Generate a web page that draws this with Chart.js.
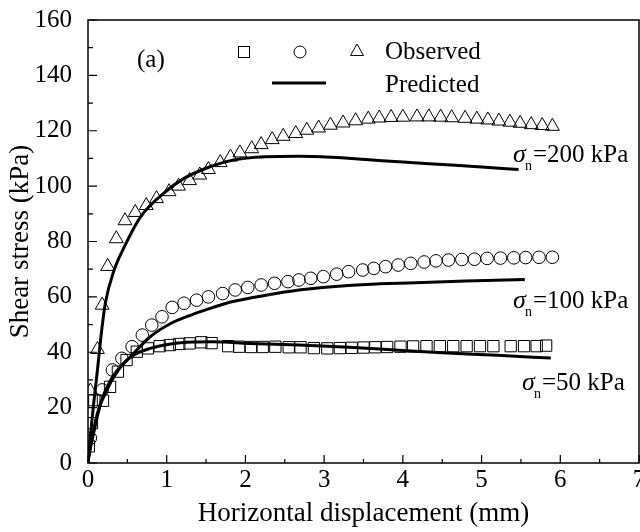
<!DOCTYPE html>
<html>
<head>
<meta charset="utf-8">
<script src="https://cdn.jsdelivr.net/npm/chart.js@4"></script>
<style>
  body { margin: 0; background: #fff; overflow: hidden; }
  #wrap { width: 640px; height: 532px; overflow: hidden; }
</style>
</head>
<body>
<div id="wrap"><canvas id="chart" width="648" height="532"></canvas></div>
<script>
// observed, sigma_n = 50 kPa (squares)
let obs50X = [0.01, 0.05, 0.08, 0.19, 0.28, 0.38, 0.49, 0.62, 0.76, 0.91, 1.04, 1.16, 1.29, 1.44, 1.57, 1.78, 1.92, 2.07, 2.22, 2.38, 2.55, 2.7, 2.87, 3.04, 3.2, 3.35, 3.5, 3.65, 3.8, 3.97, 4.13, 4.3, 4.47, 4.64, 4.81, 4.98, 5.15, 5.37, 5.54, 5.7, 5.82];
let obs50Y = [6, 14.4, 22.7, 22.5, 27.5, 33, 37.2, 40.2, 41.4, 42.2, 42.6, 43, 43.2, 43.6, 43.3, 42.2, 42, 41.9, 41.9, 42, 41.8, 41.8, 41.5, 41.4, 41.5, 41.6, 41.7, 41.8, 41.9, 42, 42.1, 42.2, 42.2, 42.2, 42.2, 42.2, 42.2, 42.2, 42.2, 42.2, 42.4];

// observed, sigma_n = 100 kPa (circles)
let obs100X = [0.03, 0.18, 0.31, 0.43, 0.56, 0.69, 0.81, 0.94, 1.07, 1.22, 1.38, 1.53, 1.71, 1.87, 2.03, 2.2, 2.37, 2.54, 2.68, 2.83, 2.99, 3.16, 3.31, 3.49, 3.63, 3.78, 3.94, 4.1, 4.27, 4.42, 4.58, 4.75, 4.91, 5.07, 5.24, 5.41, 5.56, 5.73, 5.9];
let obs100Y = [9, 26.4, 33.6, 37.8, 42, 46.2, 49.8, 52.8, 56.2, 57.7, 58.8, 60, 61.2, 62.5, 63.4, 64.3, 64.9, 65.5, 66.1, 66.7, 67.3, 68.2, 69.1, 69.7, 70.3, 70.9, 71.5, 72.1, 72.6, 73, 73.3, 73.5, 73.6, 73.9, 74, 74.1, 74.2, 74.3, 74.3];

// observed, sigma_n = 200 kPa (triangles)
let obs200X = [0.03, 0.12, 0.18, 0.25, 0.36, 0.47, 0.6, 0.74, 0.87, 1.03, 1.15, 1.29, 1.42, 1.53, 1.68, 1.81, 1.93, 2.08, 2.2, 2.34, 2.48, 2.64, 2.78, 2.93, 3.08, 3.24, 3.4, 3.56, 3.7, 3.85, 4.0, 4.18, 4.33, 4.48, 4.62, 4.79, 4.94, 5.08, 5.22, 5.36, 5.49, 5.63, 5.77, 5.9];
let obs200Y = [26, 41, 57, 71, 81, 87.5, 90.5, 93, 95.5, 98, 100, 102, 104, 106, 108.5, 110.5, 112, 113.5, 115, 116.8, 118, 119, 120.2, 121, 122, 122.8, 123.6, 124.2, 124.6, 124.8, 124.9, 125, 125, 124.9, 124.7, 124.5, 124.2, 123.9, 123.5, 123.1, 122.7, 122.2, 121.9, 121.6];

// predicted curves
let pred50X = [0, 0.01, 0.08, 0.16, 0.29, 0.41, 0.58, 0.79, 1.05, 1.34, 1.59, 2.05, 2.68, 3.32, 3.95, 4.5, 5.2, 5.88];
let pred50Y = [0, 2.3, 11.9, 21.5, 30, 34.8, 39, 41.4, 43, 43.7, 43.8, 43.2, 42.6, 41.8, 40.7, 39.8, 38.9, 37.9];
let pred100X = [0, 0.01, 0.06, 0.12, 0.24, 0.37, 0.58, 0.79, 1.05, 1.34, 1.59, 1.84, 2.26, 2.68, 3.1, 3.53, 4.16, 4.8, 5.55];
let pred100Y = [0, 2.3, 10, 18, 26.4, 33, 39.6, 45.6, 50.4, 53.8, 56.2, 58.3, 60.6, 62.5, 63.7, 64.5, 65.1, 65.7, 66.3];
let pred200X = [0, 0.03, 0.07, 0.12, 0.17, 0.22, 0.33, 0.46, 0.67, 0.96, 1.22, 1.55, 1.84, 2.26, 2.68, 3.1, 3.53, 4.0, 4.5, 5.0, 5.47];
let pred200Y = [0, 9.5, 21, 33.6, 47, 57.7, 69.5, 78, 89, 97.4, 102.8, 107, 109.4, 110.6, 110.8, 110.4, 109.6, 108.7, 107.8, 106.9, 106];

// axes and labels
let xTicks = [0, 1, 2, 3, 4, 5, 6, 7];
let yTicks = [0, 20, 40, 60, 80, 100, 120, 140, 160];
let stressLabels = ["=50 kPa", "=100 kPa", "=200 kPa"];
let legendLabels = ["Observed", "Predicted"];

const serif = "'Liberation Serif', 'Times New Roman', serif";

function pts(xs, ys) {
  return xs.map((x, i) => ({ x: x, y: ys[i] }));
}

function obsSet(data, style, radius) {
  return {
    type: "scatter",
    data: data,
    pointStyle: style,
    pointRadius: radius,
    pointBackgroundColor: "rgba(0,0,0,0)",
    pointBorderColor: "#000",
    pointBorderWidth: 1,
    showLine: false,
  };
}

function predSet(data) {
  return {
    type: "line",
    data: data,
    borderColor: "#000",
    borderWidth: 3,
    pointRadius: 0,
    cubicInterpolationMode: "monotone",
    fill: false,
  };
}

// frame, inward ticks, legend and labels
const decor = {
  id: "decor",
  afterDraw(chart) {
    let ctx = chart.ctx;
    let a = chart.chartArea;
    let xs = chart.scales.x;
    let ys = chart.scales.y;
    ctx.save();
    ctx.strokeStyle = "#000";
    ctx.fillStyle = "#000";

    ctx.lineWidth = 1.5;
    ctx.strokeRect(a.left, a.top, a.right - a.left, a.bottom - a.top);

    ctx.lineWidth = 1.2;
    ctx.beginPath();
    for (let v = 0; v <= 7; v += 0.5) {
      let px = xs.getPixelForValue(v);
      let len = v % 1 === 0 ? 8 : 4;
      ctx.moveTo(px, a.bottom);
      ctx.lineTo(px, a.bottom - len);
    }
    for (let v = 0; v <= 160; v += 10) {
      let py = ys.getPixelForValue(v);
      let len = v % 20 === 0 ? 9 : 5;
      ctx.moveTo(a.left, py);
      ctx.lineTo(a.left + len, py);
    }
    ctx.stroke();

    // legend
    ctx.lineWidth = 1;
    ctx.strokeRect(238.5, 46.5, 11, 11);
    ctx.beginPath();
    ctx.arc(300, 52, 6, 0, Math.PI * 2);
    ctx.stroke();
    ctx.beginPath();
    ctx.moveTo(357, 44);
    ctx.lineTo(363.5, 55.5);
    ctx.lineTo(350.5, 55.5);
    ctx.closePath();
    ctx.stroke();
    ctx.lineWidth = 3;
    ctx.beginPath();
    ctx.moveTo(272, 83);
    ctx.lineTo(326, 83);
    ctx.stroke();

    ctx.font = "25px " + serif;
    ctx.textBaseline = "alphabetic";
    ctx.textAlign = "left";
    ctx.fillText(legendLabels[0], 385, 59);
    ctx.fillText(legendLabels[1], 385, 92);
    ctx.fillText("(a)", 137, 67);

    // sigma_n labels
    let sig = [
      { x: 522, y: 390, t: stressLabels[0] },
      { x: 513, y: 308, t: stressLabels[1] },
      { x: 513, y: 162, t: stressLabels[2] },
    ];
    sig.forEach((s) => {
      ctx.font = "italic 26px " + serif;
      ctx.fillText("\u03c3", s.x, s.y);
      ctx.font = "14px " + serif;
      ctx.fillText("n", s.x + 12, s.y + 8);
      ctx.font = "25px " + serif;
      ctx.fillText(s.t, s.x + 20, s.y);
    });
    ctx.restore();
  },
};

const config = {
  type: "scatter",
  data: {
    datasets: [
      obsSet(pts(obs50X, obs50Y), "rect", 8),
      obsSet(pts(obs100X, obs100Y), "circle", 6.3),
      obsSet(pts(obs200X, obs200Y), "triangle", 8),
      predSet(pts(pred50X, pred50Y)),
      predSet(pts(pred100X, pred100Y)),
      predSet(pts(pred200X, pred200Y)),
    ],
  },
  options: {
    responsive: false,
    animation: false,
    devicePixelRatio: 1,
    layout: { padding: { top: 20, right: 0, left: 0, bottom: 0 } },
    plugins: {
      legend: { display: false },
      tooltip: { enabled: false },
    },
    scales: {
      x: {
        type: "linear",
        min: 0,
        max: 7,
        afterBuildTicks: (s) => { s.ticks = xTicks.map((v) => ({ value: v })); },
        afterFit: (s) => { s.height = 69; },
        ticks: { color: "#000", font: { family: serif, size: 25 }, padding: -6, maxRotation: 0 },
        grid: { display: false },
        border: { display: false },
        title: {
          display: true,
          text: "Horizontal displacement (mm)",
          color: "#000",
          font: { family: serif, size: 27 },
          padding: { top: 0, bottom: 2 },
        },
      },
      y: {
        type: "linear",
        min: 0,
        max: 160,
        afterBuildTicks: (s) => { s.ticks = yTicks.map((v) => ({ value: v })); },
        afterFit: (s) => { s.width = 88; s.paddingTop = 0; s.paddingBottom = 0; },
        ticks: { color: "#000", font: { family: serif, size: 25 }, padding: 8 },
        grid: { display: false },
        border: { display: false },
        title: {
          display: true,
          text: "Shear stress (kPa)",
          color: "#000",
          font: { family: serif, size: 27 },
          padding: { top: 5, bottom: 0 },
        },
      },
    },
  },
  plugins: [decor],
};

let chart = new Chart(document.getElementById("chart"), config);
</script>
</body>
</html>
